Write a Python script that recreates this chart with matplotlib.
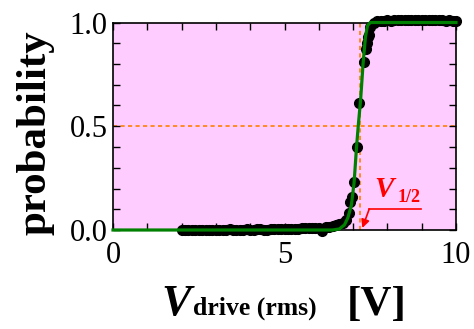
import numpy as np
import matplotlib
matplotlib.use("Agg")
import matplotlib.pyplot as plt
from matplotlib.ticker import MultipleLocator, FormatStrFormatter

plt.rcParams['font.family'] = ['Liberation Serif', 'DejaVu Serif']

# measured points: drive voltage (rms) [V] vs switching probability
v_low = [2.0, 2.1, 2.2, 2.3, 2.4, 2.5, 2.6, 2.7, 2.8, 2.9,
         3.0, 3.1, 3.2, 3.3, 3.4, 3.5, 3.6, 3.7, 3.8, 3.9,
         4.0, 4.1, 4.2, 4.3, 4.4, 4.5, 4.6, 4.7, 4.8, 4.9,
         5.0, 5.1, 5.2, 5.3, 5.4, 5.5, 5.6, 5.7, 5.8, 5.9,
         6.0, 6.1, 6.2, 6.3, 6.4, 6.5, 6.6, 6.7, 6.8]
p_low = [0.0, 0.0, -0.002, 0.0, 0.0, 0.002, 0.0, 0.0, -0.002, 0.0,
         0.0, 0.002, 0.0, 0.0, 0.003, 0.0, 0.0, 0.002, 0.0, 0.003,
         0.002, 0.0, 0.003, 0.004, 0.0, 0.002, 0.004, 0.003, 0.005, 0.004,
         0.003, 0.006, 0.005, 0.007, 0.006, 0.008, 0.008, 0.01, 0.009, 0.012,
         0.01, -0.005, 0.014, 0.016, 0.02, 0.022, 0.028, 0.035, 0.05]
v_mid = [6.88, 6.92, 6.97, 7.03, 7.11, 7.18, 7.31, 7.37, 7.40, 7.44, 7.47]
p_mid = [0.08, 0.137, 0.16, 0.229, 0.40, 0.61, 0.81, 0.87, 0.90, 0.93, 0.94]
v_high = [7.5, 7.6, 7.7, 7.8, 7.9, 8.0, 8.1, 8.2, 8.3, 8.4,
          8.5, 8.6, 8.7, 8.8, 8.9, 9.0, 9.1, 9.2, 9.3, 9.4,
          9.5, 9.6, 9.7, 9.8, 9.9, 10.0]
p_high = [0.98, 1.0, 1.005, 1.008, 1.006, 1.01, 1.008, 1.01, 1.012, 1.01,
          1.012, 1.01, 1.012, 1.014, 1.012, 1.01, 1.012, 1.014, 1.012, 1.01,
          1.012, 1.01, 1.008, 1.01, 1.008, 1.006]

# fitted step curve
v_fit = [0.0, 6.4, 6.6, 6.75, 6.85, 6.95, 7.03, 7.1, 7.16, 7.22, 7.29, 7.36, 7.42, 7.5, 10.0]
p_fit = [0.0, 0.0, 0.005, 0.025, 0.06, 0.12, 0.23, 0.4, 0.52, 0.63, 0.8, 0.93, 0.985, 1.0, 1.0]

v_half = 7.2

fig = plt.figure(figsize=(4.74, 3.29), dpi=100)
ax = fig.add_axes([113/474, 1-230/329, 343/474, 207.5/329])
ax.set_facecolor('#FFCCFF')

ax.axhline(0.5, color='#FF8000', ls=(0, (2.5, 2)), lw=1.2, zorder=1)
ax.axvline(v_half, color='#FF8000', ls=(0, (2.5, 2)), lw=1.2, zorder=1)

v_all = v_low + v_mid + v_high
p_all = p_low + p_mid + p_high
ax.plot(v_all, p_all, 'o', color='black', ms=7, clip_on=False, zorder=3)
ax.plot(v_fit, p_fit, color='#008000', lw=2.3, clip_on=False, zorder=4)

ax.set_xlim(0, 10)
ax.set_ylim(0, 1)
ax.xaxis.set_major_locator(MultipleLocator(5))
ax.xaxis.set_minor_locator(MultipleLocator(1))
ax.yaxis.set_major_locator(MultipleLocator(0.5))
ax.yaxis.set_minor_locator(MultipleLocator(0.1))
ax.yaxis.set_major_formatter(FormatStrFormatter('%.1f'))
ax.tick_params(which='both', direction='in', top=True, right=True,
               length=5, width=1, labelsize=22)
ax.tick_params(axis='x', pad=8)
ax.tick_params(axis='y', pad=4)
for s in ax.spines.values():
    s.set_linewidth(1.2)

# V1/2 marker
ax.plot([7.47, 8.98], [0.101, 0.101], color='red', lw=1.2, clip_on=False)
ax.annotate('', xy=(7.27, 0.01), xytext=(7.47, 0.101),
            arrowprops=dict(arrowstyle='-|>', color='red', lw=1.2,
                            mutation_scale=12, shrinkA=0, shrinkB=0))
ax.text(7.62, 0.159, 'V', color='red', fontsize=21,
        fontweight='bold', fontstyle='italic', va='baseline')
ax.text(8.30, 0.135, '1/2', color='red', fontsize=13, fontweight='bold',
        va='baseline')

fig.text(36/474, 1-133/329, 'probability', rotation=90, fontsize=31,
         fontweight='bold', ha='center', va='center')
fig.text(161/474, (329-315)/329, 'V', fontsize=32, fontweight='bold',
         fontstyle='italic', va='baseline')
fig.text(193/474, (329-315)/329, 'drive (rms)', fontsize=18.5,
         fontweight='bold', va='baseline')
fig.text(347/474, (329-315)/329, '[V]', fontsize=31, fontweight='bold',
         va='baseline')

fig.savefig('out.png', dpi=100)
